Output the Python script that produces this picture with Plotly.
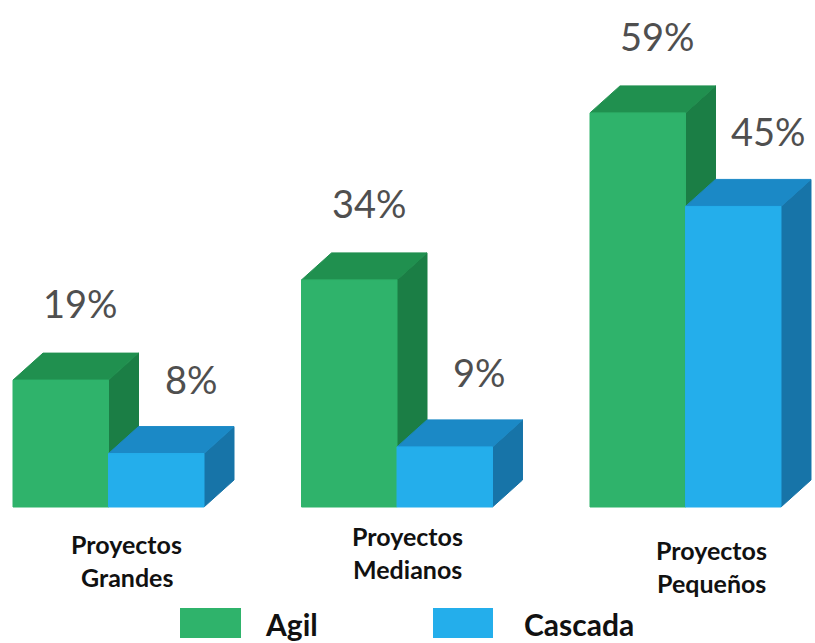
import plotly.graph_objects as go

# ---- data ----
categorias = ["Proyectos Grandes", "Proyectos Medianos", "Proyectos Pequeños"]
cat_linea1 = ["Proyectos", "Proyectos", "Proyectos"]
cat_linea2 = ["Grandes", "Medianos", "Pequeños"]
series = ["Agil", "Cascada"]
agil = [19, 34, 59]
cascada = [8, 9, 45]

# ---- styles / geometry ----
W, H = 815, 643
bar_w = 0.331          # width of each bar front face (group units)
dx = 0.104             # 3D depth offset in x (group units)
dy = 4.04              # 3D depth offset in y (percent units)
x_range = [-0.3761, 2.4489]
y_range = [-20.36, 75.90]

colors = {
    "Agil": {"front": "#2fb36b", "top": "#20904f", "side": "#1b7e45"},
    "Cascada": {"front": "#24aeeb", "top": "#1b89c6", "side": "#1774a8"},
}

fig = go.Figure()


def add_bars(name, values, offset_sign):
    fx, fy, tx, ty, sx, sy = [], [], [], [], [], []
    for i, v in enumerate(values):
        if offset_sign < 0:
            x0, x1 = i - bar_w, i
        else:
            x0, x1 = i, i + bar_w
        # front
        fx += [x0, x1, x1, x0, x0, None]
        fy += [0, 0, v, v, 0, None]
        # top
        tx += [x0, x1, x1 + dx, x0 + dx, x0, None]
        ty += [v, v, v + dy, v + dy, v, None]
        # side
        sx += [x1, x1 + dx, x1 + dx, x1, x1, None]
        sy += [0, dy, v + dy, v, 0, None]
    c = colors[name]
    for xs, ys, col in [(sx, sy, c["side"]), (tx, ty, c["top"]), (fx, fy, c["front"])]:
        fig.add_trace(go.Scatter(
            x=xs, y=ys, mode="lines", fill="toself", fillcolor=col,
            line=dict(color=col, width=1), hoverinfo="skip", showlegend=False,
        ))


add_bars("Agil", agil, -1)
add_bars("Cascada", cascada, +1)

annotations = []
label_font = dict(family="Lato, Open Sans, sans-serif", size=38, color="#4f4f4f")
for i, v in enumerate(agil):
    annotations.append(dict(
        x=i - bar_w / 2 + dx / 2, y=v + dy, text=f"{v}%", showarrow=False,
        yshift=50, xshift=5, font=label_font, xanchor="center", yanchor="middle"))
for i, v in enumerate(cascada):
    annotations.append(dict(
        x=i + bar_w / 2 + dx / 2, y=v + dy, text=f"{v}%", showarrow=False,
        yshift=48, xshift=20, font=label_font, xanchor="center", yanchor="middle"))

# category labels (staggered as in the original)
cat_font = dict(family="Lato, Open Sans, sans-serif", size=25, color="#111111")
cat_px_x = [127, 407, 711]
cat_px_y1 = [544, 536, 550]
line_gap = 33
for i in range(len(categorias)):
    annotations.append(dict(
        xref="paper", yref="paper", x=cat_px_x[i] / W, y=1 - cat_px_y1[i] / H,
        text=f"<b>{cat_linea1[i]}</b>", showarrow=False, font=cat_font,
        xanchor="center", yanchor="middle"))
    annotations.append(dict(
        xref="paper", yref="paper", x=cat_px_x[i] / W, y=1 - (cat_px_y1[i] + line_gap) / H,
        text=f"<b>{cat_linea2[i]}</b>", showarrow=False, font=cat_font,
        xanchor="center", yanchor="middle"))

# legend
leg_font = dict(family="Lato, Open Sans, sans-serif", size=30, color="#111111")
leg_sw = [(180, 241), (433, 493)]
leg_tx = [263, 522]
sw_y0, sw_y1 = 608, 638
shapes = []
for k, s in enumerate(series):
    shapes.append(dict(
        type="rect", xref="paper", yref="paper",
        x0=leg_sw[k][0] / W, x1=leg_sw[k][1] / W,
        y0=1 - sw_y1 / H, y1=1 - sw_y0 / H,
        fillcolor=colors[s]["front"], line=dict(width=0)))
    annotations.append(dict(
        xref="paper", yref="paper", x=leg_tx[k] / W, y=1 - 624 / H,
        text=f"<b>{s}</b>", showarrow=False, font=leg_font,
        xanchor="left", yanchor="middle"))

fig.update_layout(
    width=W, height=H, autosize=False,
    margin=dict(l=0, r=0, t=0, b=0, pad=0),
    paper_bgcolor="white", plot_bgcolor="white",
    showlegend=False,
    xaxis=dict(range=x_range, visible=False, fixedrange=True),
    yaxis=dict(range=y_range, visible=False, fixedrange=True),
    annotations=annotations, shapes=shapes,
)

fig.write_html("out.html")
